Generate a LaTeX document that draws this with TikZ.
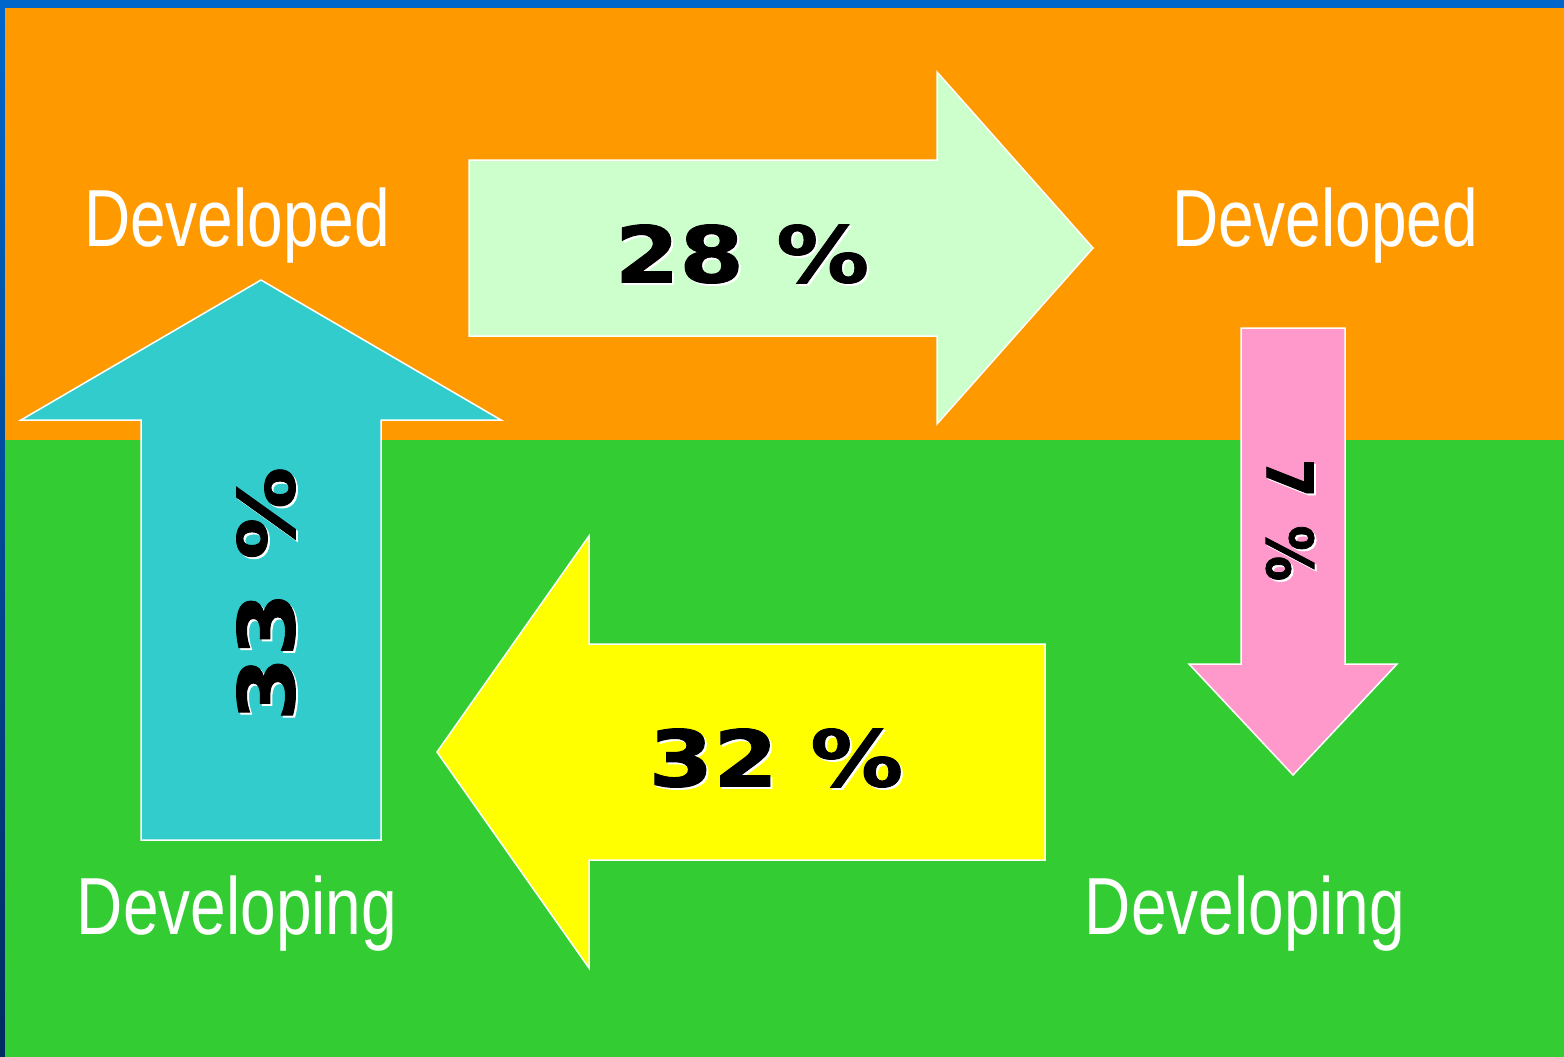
\documentclass[tikz,border=0pt]{standalone}
\usepackage{fontspec}
\usepackage{tikz}
\newfontfamily\narrowfont{Liberation Sans}[FakeStretch=0.79]
\newfontfamily\heavyfont{DejaVu Sans}[FakeStretch=1.19,FakeBold=1.2]
\newfontfamily\slimheavyfont{DejaVu Sans}[FakeStretch=0.87,FakeBold=1.2]
\definecolor{slideblue}{HTML}{0066CC}
\definecolor{slidedark}{HTML}{002C60}
\definecolor{topband}{HTML}{FF9900}
\definecolor{lowband}{HTML}{33CC33}
\definecolor{mint}{HTML}{CCFFCC}
\definecolor{lemon}{HTML}{FFFF00}
\definecolor{rose}{HTML}{FF99CC}
\definecolor{teal}{HTML}{33CCCC}
\tikzset{
  region/.style={text=white,font=\narrowfont\fontsize{81}{81}\selectfont,anchor=base,inner sep=0pt},
  flowarrow/.style={draw=white,line width=1.5pt,line join=miter},
  pct/.style={font=\heavyfont\bfseries\fontsize{78}{78}\selectfont,inner sep=0pt,text=black},
  pctshadow/.style={pct,text=white},
  slimpct/.style={font=\slimheavyfont\bfseries\fontsize{64}{64}\selectfont,inner sep=0pt,text=black},
  slimshadow/.style={slimpct,text=white}
}
\begin{document}
\begin{tikzpicture}[x=1pt,y=-1pt]
    \useasboundingbox (0,0) rectangle (1564,1057);
      %slide background: blue frame, orange upper band, green lower band
    \fill[slideblue] (0,0) rectangle (1564,8);
    \shade[top color=slideblue,bottom color=slidedark] (0,8) rectangle (5,1057);
    \fill[topband] (5,8) rectangle (1564,440);
    \fill[lowband] (5,440) rectangle (1564,1057);
      %the four flows, drawn as block arrows
    \filldraw[flowarrow,fill=mint] (469,160) -- (937,160) -- (937,72) -- (1093,248)
        -- (937,424) -- (937,336) -- (469,336) -- cycle;
    \filldraw[flowarrow,fill=rose] (1241,328) -- (1345,328) -- (1345,664) -- (1397,664)
        -- (1293,775) -- (1189,664) -- (1241,664) -- cycle;
    \filldraw[flowarrow,fill=lemon] (1045,644) -- (589,644) -- (589,536) -- (437,752)
        -- (589,968) -- (589,860) -- (1045,860) -- cycle;
    \filldraw[flowarrow,fill=teal] (141,840) -- (141,420) -- (21,420) -- (261,280)
        -- (501,420) -- (381,420) -- (381,840) -- cycle;
      %corner labels
    \node[region] (devdL) at (237,246) {Developed};
    \node[region] (devdR) at (1325,246) {Developed};
    \node[region] (devgL) at (237,934) {Developing};
    \node[region] (devgR) at (1245,934) {Developing};
      %shares, each with a white shadow behind it
    \node[pctshadow] (topS) at (744,256) {28 \%};
    \node[pct] (topP) at (742,254) {28 \%};
    \node[slimshadow] (rightS) at (1292,522) [rotate=-90] {7\hspace{28pt}\%};
    \node[slimpct] (rightP) at (1290,520) [rotate=-90] {7\hspace{28pt}\%};
    \node[pctshadow] (lowS) at (778,760) {32 \%};
    \node[pct] (lowP) at (776,758) {32 \%};
    \node[pctshadow] (leftS) at (268,596) [rotate=90] {33 \%};
    \node[pct] (leftP) at (266,594) [rotate=90] {33 \%};
\end{tikzpicture}
\end{document}
